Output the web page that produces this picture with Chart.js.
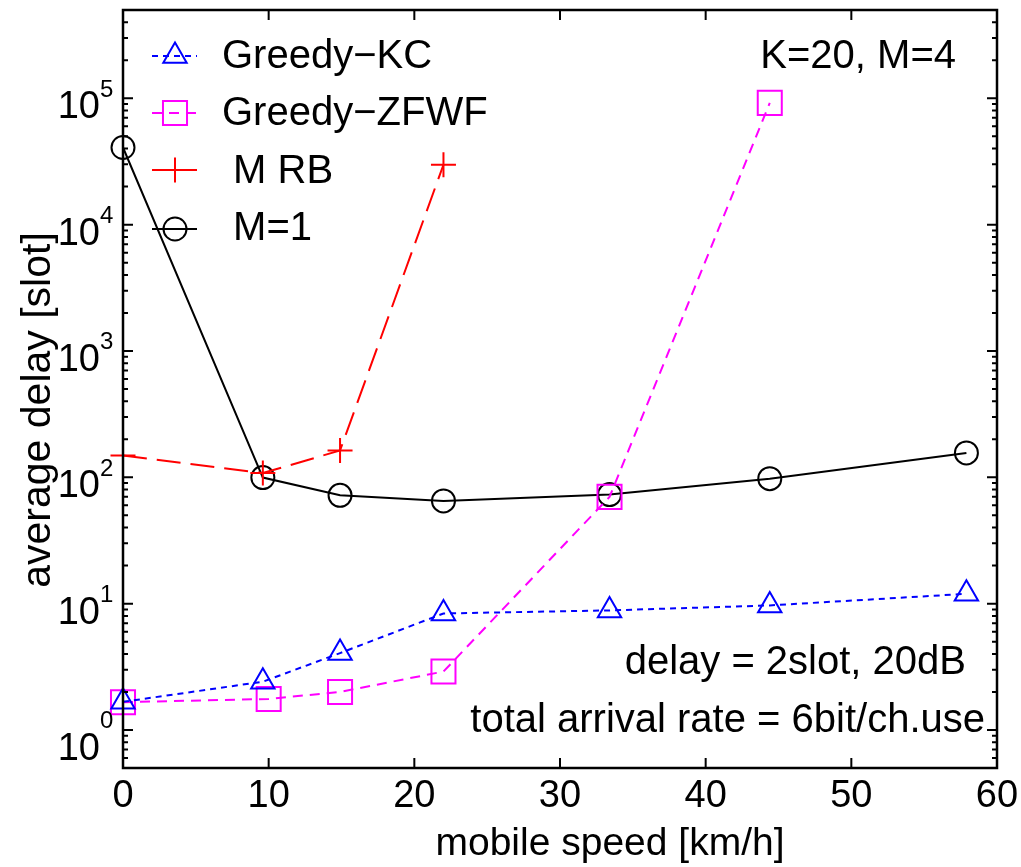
<!DOCTYPE html>
<html>
<head>
<meta charset="utf-8">
<script src="https://cdn.jsdelivr.net/npm/chart.js@4/dist/chart.umd.min.js"></script>
<style>
  body { margin: 0; background: #fff; }
  canvas { display: block; }
</style>
</head>
<body>
<canvas id="delay" width="1021" height="867"></canvas>
<script>
// mobile speed [km/h]
const speed   = [0, 9.6, 14.9, 22, 33.4, 44.4, 57.9];
const speedZF = [0, 10, 14.9, 22, 33.4, 44.4];
const speedRB = [0, 9.6, 14.9, 22];

// average delay [slot]
const delayKC = [1.67, 2.41, 4.06, 8.36, 8.84, 9.68, 11.96];
const delayZF = [1.66, 1.76, 2.0, 2.9, 70, 92000];
const delayRB = [149, 108, 163, 29800];
const delayM1 = [40800, 99.5, 72, 65, 73, 97.6, 156];

const xTicks = [0, 10, 20, 30, 40, 50, 60];
const yExps  = [0, 1, 2, 3, 4, 5];

const FONT = '"Liberation Sans", Arial, Helvetica, sans-serif';

const pts = (xs, ys) => xs.map((x, i) => ({ x: x, y: ys[i] }));

const series = [
  { label: 'Greedy\u2212KC',   color: '#0000ff', dash: [6, 5],   style: 'triangle', r: 13.5, data: pts(speed, delayKC) },
  { label: 'Greedy\u2212ZFWF', color: '#ff00ff', dash: [10, 7],  style: 'rect',     r: 17,   data: pts(speedZF, delayZF) },
  { label: ' M RB',            color: '#ff0000', dash: [24, 10], style: 'cross',    r: 12.5, data: pts(speedRB, delayRB) },
  { label: ' M=1',             color: '#000000', dash: [],       style: 'circle',   r: 11.5, data: pts(speed, delayM1) }
];

const frame = {
  id: 'frame',
  beforeDraw(chart) {
    const c = chart.ctx;
    c.save();
    c.fillStyle = '#fff';
    c.fillRect(0, 0, chart.width, chart.height);
    c.restore();
  },
  afterDraw(chart) {
    const c = chart.ctx;
    const a = chart.chartArea;
    const xs = chart.scales.x, ys = chart.scales.y;
    c.save();

    // inward ticks
    c.strokeStyle = '#000';
    c.lineWidth = 2;
    c.beginPath();
    xTicks.forEach(v => {
      const px = xs.getPixelForValue(v);
      c.moveTo(px, a.bottom); c.lineTo(px, a.bottom - 10);
      c.moveTo(px, a.top);    c.lineTo(px, a.top + 10);
    });
    for (let k = -1; k <= 5; k++) {
      for (let m = 1; m <= 9; m++) {
        const v = m * Math.pow(10, k);
        if (v < ys.min || v > ys.max) continue;
        const py = ys.getPixelForValue(v);
        const len = m === 1 ? 10 : 5;
        c.moveTo(a.left, py);  c.lineTo(a.left + len, py);
        c.moveTo(a.right, py); c.lineTo(a.right - len, py);
      }
    }
    c.stroke();

    // box
    c.lineWidth = 2.5;
    c.strokeRect(a.left, a.top, a.right - a.left, a.bottom - a.top);

    // x tick labels
    c.fillStyle = '#000';
    c.font = '38px ' + FONT;
    c.textAlign = 'center';
    c.textBaseline = 'alphabetic';
    xTicks.forEach(v => c.fillText(String(v), xs.getPixelForValue(v), 807));

    // y tick labels 10^k
    yExps.forEach(e => {
      const py = ys.getPixelForValue(Math.pow(10, e));
      c.font = '38px ' + FONT;
      c.textAlign = 'right';
      c.fillText('10', 100, py + (e === 0 ? 30 : 20));
      c.font = '24px ' + FONT;
      c.textAlign = 'left';
      c.fillText(String(e), 100, py - 1.5);
    });

    // axis titles
    c.font = '39px ' + FONT;
    c.textAlign = 'center';
    c.fillText('mobile speed [km/h]', 610, 855);
    c.save();
    c.translate(50, 410);
    c.rotate(-Math.PI / 2);
    c.font = '41px ' + FONT;
    c.fillText('average delay [slot]', 0, 0);
    c.restore();

    // annotations
    c.font = '40px ' + FONT;
    c.textAlign = 'right';
    c.fillText('K=20, M=4', 956, 68);
    c.fillText('delay = 2slot, 20dB', 966, 674);
    c.fillText('total arrival rate = 6bit/ch.use', 985, 732);

    // legend
    const rows = [[56, 68], [113, 125], [170, 183], [229, 240]];
    series.forEach((s, i) => {
      const y = rows[i][0];
      c.save();
      c.strokeStyle = s.color;
      c.lineWidth = 2;
      c.setLineDash(s.dash);
      c.beginPath();
      c.moveTo(152, y); c.lineTo(197, y);
      c.stroke();
      c.setLineDash([]);
      c.fillStyle = 'rgba(0,0,0,0)';
      Chart.helpers.drawPoint(c, { pointStyle: s.style, radius: s.r, rotation: 0, borderWidth: 2 }, 175, y);
      c.restore();
      c.fillStyle = '#000';
      c.textAlign = 'left';
      c.fillText(s.label, 222, rows[i][1]);
    });

    c.restore();
  }
};

new Chart(document.getElementById('delay'), {
  type: 'line',
  data: {
    datasets: series.map(s => ({
      label: s.label,
      data: s.data,
      borderColor: s.color,
      borderWidth: 2,
      borderDash: s.dash,
      tension: 0,
      fill: false,
      clip: false,
      pointStyle: s.style,
      pointRadius: s.r,
      pointBorderWidth: 2,
      pointBorderColor: s.color,
      pointBackgroundColor: 'rgba(0,0,0,0)'
    }))
  },
  options: {
    responsive: false,
    animation: false,
    devicePixelRatio: 1,
    layout: { autoPadding: false, padding: { left: 123, right: 24, top: 10, bottom: 99 } },
    plugins: { legend: { display: false }, tooltip: { enabled: false } },
    scales: {
      x: { type: 'linear', min: 0, max: 60, display: false },
      y: { type: 'logarithmic', min: 0.5, max: 500000, display: false }
    }
  },
  plugins: [frame]
});
</script>
</body>
</html>
